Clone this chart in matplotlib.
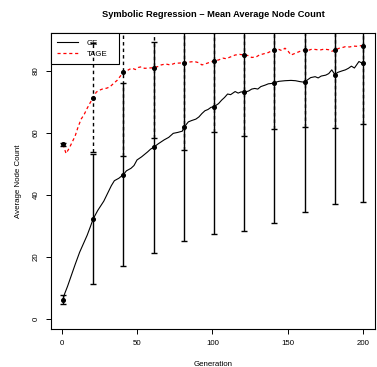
import matplotlib
matplotlib.use("Agg")
import matplotlib.pyplot as plt

plt.rcParams['font.family'] = ['Liberation Sans', 'DejaVu Sans']

# mean average node count per generation
ge_gen = [1, 2, 4, 7, 9, 12, 15, 17, 19, 21, 24, 26, 28, 30, 33, 35, 38, 41, 43, 46,
          48, 50, 53, 57, 59, 61, 64, 68, 71, 74, 77, 80, 81, 84, 86, 89, 91, 93, 95, 97,
          99, 101, 104, 106, 108, 110, 112, 115, 117, 119, 121, 124, 126, 128, 130, 132,
          135, 137, 139, 141, 144, 148, 152, 155, 158, 161, 163, 165, 168, 170, 172, 175,
          177, 179, 181, 183, 186, 188, 190, 192, 194, 196, 197, 199, 200]
ge_val = [6.2, 8.0, 10.5, 14.7, 17.5, 21.5, 24.8, 27.0, 29.6, 32.3, 35.0, 36.5, 38.0,
          40.0, 43.0, 44.6, 45.4, 46.6, 47.8, 48.6, 49.5, 51.3, 52.3, 53.9, 54.8, 55.4,
          56.5, 57.8, 58.6, 59.9, 60.2, 60.6, 61.8, 63.6, 64.0, 64.5, 65.2, 66.3, 67.2,
          67.6, 68.3, 68.5, 69.5, 70.6, 71.5, 72.6, 72.4, 73.4, 72.9, 73.3, 73.1, 73.6,
          74.2, 74.4, 74.2, 75.0, 75.5, 75.9, 76.0, 76.3, 76.7, 76.9, 77.0, 76.9, 76.6,
          76.4, 77.2, 77.9, 78.2, 77.8, 78.4, 78.7, 79.2, 80.4, 78.9, 79.6, 80.1, 80.4,
          80.9, 81.6, 81.0, 82.4, 83.1, 82.6, 82.6]

tage_gen = [1, 3, 5, 7, 9, 11, 13, 15, 17, 19, 21, 23, 25, 27, 30, 32, 34, 37, 39, 41,
            43, 45, 47, 49, 51, 53, 55, 58, 61, 64, 66, 69, 72, 75, 78, 81, 84, 88, 91,
            93, 95, 98, 101, 104, 107, 109, 112, 115, 118, 121, 124, 126, 129, 131, 134,
            137, 139, 141, 144, 146, 148, 150, 152, 154, 157, 159, 161, 164, 166, 168,
            171, 174, 177, 179, 181, 184, 186, 188, 191, 193, 196, 198, 200]
tage_val = [56.3, 53.4, 55.0, 57.0, 59.0, 62.0, 64.5, 66.0, 68.0, 69.8, 71.4, 73.2, 73.8,
            74.2, 74.5, 74.9, 75.8, 77.1, 78.4, 79.6, 80.0, 80.6, 80.9, 80.5, 81.2, 81.4,
            80.9, 81.0, 81.1, 81.5, 82.0, 82.3, 82.0, 82.5, 82.6, 82.7, 82.9, 83.1, 82.7,
            82.0, 82.3, 82.8, 83.3, 83.6, 84.2, 84.0, 84.6, 85.2, 85.4, 85.2, 85.0, 84.4,
            84.6, 85.2, 85.6, 86.0, 86.5, 86.8, 87.0, 86.6, 87.4, 86.5, 85.2, 85.6, 86.2,
            86.6, 86.8, 86.8, 87.1, 87.0, 86.8, 87.1, 86.9, 86.4, 86.8, 87.4, 87.6, 87.9,
            87.8, 88.1, 88.0, 88.2, 88.1]

# error bars (mean +- sd) every 20 generations
err_gen = [1, 21, 41, 61, 81, 101, 121, 141, 161, 181, 200]
ge_mean = [6.2, 32.3, 46.6, 55.4, 61.8, 68.5, 73.1, 76.3, 76.4, 78.9, 82.6]
ge_sd = [1.5, 20.9, 29.7, 34.0, 36.7, 41.0, 44.7, 45.4, 42.0, 41.9, 44.8]
tage_mean = [56.3, 71.4, 79.6, 81.1, 82.7, 83.3, 85.2, 86.8, 86.8, 86.8, 88.1]
tage_sd = [0.6, 17.6, 27.1, 22.6, 28.2, 23.0, 26.0, 25.4, 24.8, 25.2, 25.3]

fs = 5.7
fig = plt.figure(figsize=(3.77, 3.67), dpi=100)
ax = fig.add_axes([0.1353, 0.1035, 0.996 - 0.1353, 0.910 - 0.1035])

ax.plot(ge_gen, ge_val, color='black', lw=0.8, zorder=2, label='GE')
ax.plot(tage_gen, tage_val, color='red', lw=0.9, ls=(0, (2.5, 2.2)), zorder=2, label='TAGE')

e1 = ax.errorbar(err_gen, ge_mean, yerr=ge_sd, fmt='none', ecolor='black',
                 elinewidth=1.0, capsize=2.2, capthick=1.0, zorder=3)
e2 = ax.errorbar(err_gen, tage_mean, yerr=tage_sd, fmt='none', ecolor='black',
                 elinewidth=1.0, capsize=2.2, capthick=1.0, zorder=3)
e2[2][0].set_linestyle((0, (2.5, 2.2)))
ax.plot(err_gen, ge_mean, 'o', color='black', ms=2.6, zorder=4)
ax.plot(err_gen, tage_mean, 'o', color='black', ms=2.6, zorder=4)

ax.set_xlim(-6.96, 207.96)
ax.set_ylim(-3.3, 92.3)
ax.set_xticks([0, 50, 100, 150, 200])
ax.set_yticks([0, 20, 40, 60, 80])
ax.tick_params(labelsize=fs, length=3.5, width=0.7, pad=4.5, colors='black')
for t in ax.get_yticklabels():
    t.set_rotation(90)
    t.set_va('center')
for s in ax.spines.values():
    s.set_linewidth(0.8)

ax.set_xlabel('Generation', fontsize=fs, labelpad=10)
ax.set_ylabel('Average Node Count', fontsize=fs, labelpad=8)
ax.set_title('Symbolic Regression \u2013 Mean Average Node Count', fontsize=6.7,
             fontweight='bold', pad=11.8)

leg = ax.legend(loc='upper left', bbox_to_anchor=(0, 0.69, 0.21, 0.31), mode='expand',
                borderaxespad=0, fontsize=fs, fancybox=False, edgecolor='black',
                framealpha=1, handlelength=2.6, handletextpad=1.2, labelspacing=0.5,
                borderpad=0.75)
leg.get_frame().set_linewidth(0.8)
leg.set_zorder(2.5)

fig.savefig('out.png', dpi=100)
